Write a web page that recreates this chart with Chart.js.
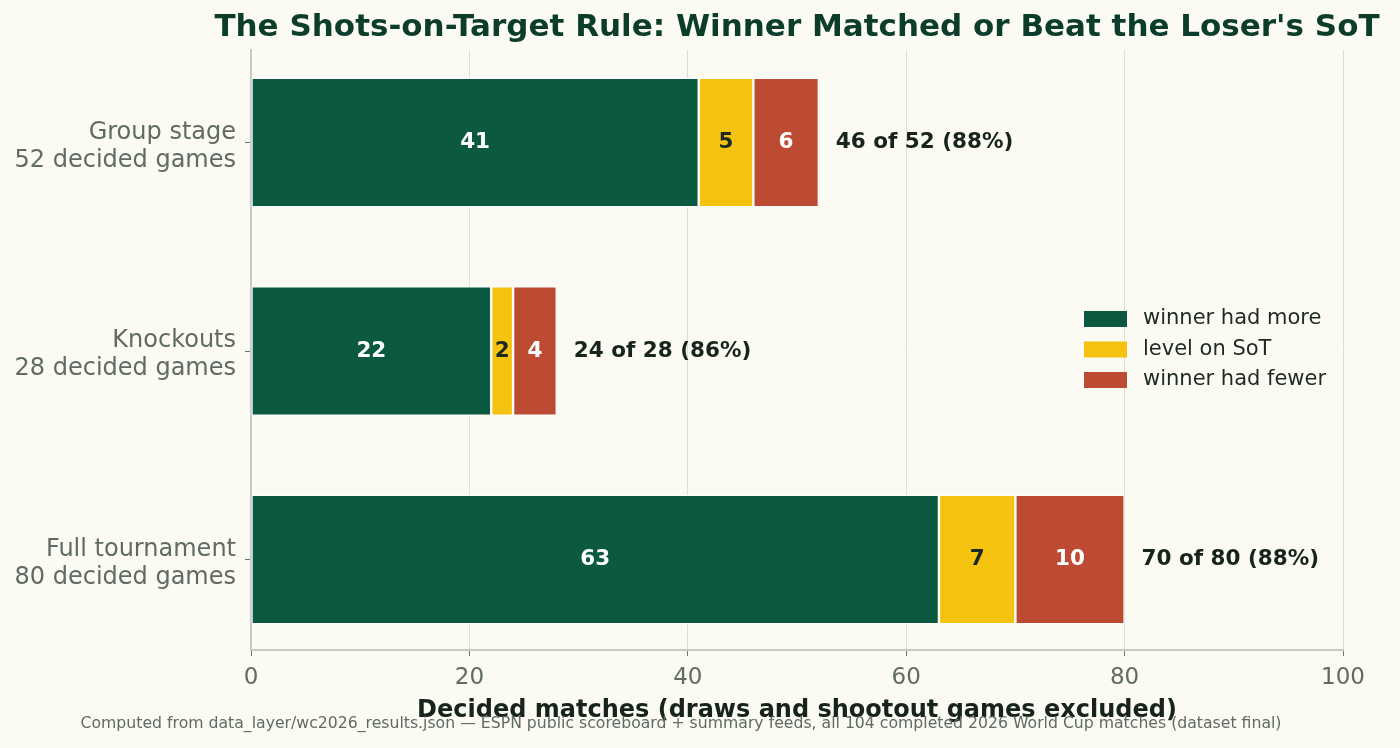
<!DOCTYPE html>
<html>
<head>
<meta charset="utf-8">
<script src="https://cdn.jsdelivr.net/npm/chart.js@4"></script>
<style>
  html, body { margin: 0; padding: 0; background: #fbfaf3; }
  canvas { display: block; }
</style>
</head>
<body>
<canvas id="chart" width="1400" height="748"></canvas>
<script>
// stages, top to bottom
const stages = [
  ["Group stage", "52 decided games"],
  ["Knockouts", "28 decided games"],
  ["Full tournament", "80 decided games"],
];
const winnerMore = [41, 22, 63];
const levelSot = [5, 2, 7];
const winnerFewer = [6, 4, 10];
const totals = [52, 28, 80];
const xTicks = [0, 20, 40, 60, 80, 100];

const GREEN = "#0b5a40";
const YELLOW = "#f4c20f";
const RED = "#bd4b34";
const FONT = "'DejaVu Sans', sans-serif";
const TITLE = "The Shots-on-Target Rule: Winner Matched or Beat the Loser's SoT";
const SOURCE = "Computed from data_layer/wc2026_results.json \u2014 ESPN public scoreboard + summary feeds, all 104 completed 2026 World Cup matches (dataset final)";

function series(values) {
  return values.map((v, i) => ({ x: v, y: i }));
}

// numbers inside each segment + "n of N (p%)" after the bar
const barLabels = {
  id: "barLabels",
  afterDatasetsDraw(chart) {
    const ctx = chart.ctx;
    ctx.save();
    ctx.font = "bold 21.5px " + FONT;
    ctx.textBaseline = "middle";
    ctx.textAlign = "center";
    chart.data.datasets.forEach((ds, di) => {
      const meta = chart.getDatasetMeta(di);
      meta.data.forEach((bar, i) => {
        const cx = (bar.x + bar.base) / 2;
        ctx.fillStyle = ds.labelColor;
        ctx.fillText(String(ds.data[i].x), cx, bar.y);
      });
    });
    const last = chart.getDatasetMeta(chart.data.datasets.length - 1);
    ctx.textAlign = "left";
    ctx.fillStyle = "#17241c";
    last.data.forEach((bar, i) => {
      const ok = winnerMore[i] + levelSot[i];
      const pct = Math.round((ok / totals[i]) * 100);
      ctx.fillText(ok + " of " + totals[i] + " (" + pct + "%)", bar.x + 17, bar.y);
    });
    ctx.restore();
  },
};

// title over the plot, legend inside the plot, source note
const extras = {
  id: "extras",
  afterDraw(chart) {
    const ctx = chart.ctx;
    const area = chart.chartArea;
    ctx.save();
    ctx.textBaseline = "middle";
    ctx.textAlign = "center";
    ctx.font = "bold 31px " + FONT;
    ctx.fillStyle = "#0b3d2a";
    ctx.fillText(TITLE, (area.left + area.right) / 2, 28);

    ctx.font = "21px " + FONT;
    ctx.textAlign = "left";
    chart.data.datasets.forEach((ds, i) => {
      const y = 319 + i * 30.5;
      ctx.fillStyle = ds.backgroundColor;
      ctx.fillRect(1084, y - 8, 43, 16);
      ctx.fillStyle = "#1f2a24";
      ctx.fillText(ds.label, 1143, y);
    });

    ctx.font = "15.7px " + FONT;
    ctx.fillStyle = "#5f6b63";
    ctx.textAlign = "center";
    ctx.fillText(SOURCE, 681, 724);
    ctx.restore();
  },
};

const bgPlugin = {
  id: "bg",
  beforeDraw(chart) {
    const ctx = chart.ctx;
    ctx.save();
    ctx.fillStyle = "#fbfaf3";
    ctx.fillRect(0, 0, chart.width, chart.height);
    ctx.restore();
  },
};

new Chart(document.getElementById("chart").getContext("2d"), {
  type: "bar",
  data: {
    datasets: [
      { label: "winner had more", data: series(winnerMore), backgroundColor: GREEN, labelColor: "#ffffff" },
      { label: "level on SoT", data: series(levelSot), backgroundColor: YELLOW, labelColor: "#1b2a20" },
      { label: "winner had fewer", data: series(winnerFewer), backgroundColor: RED, labelColor: "#ffffff" },
    ],
  },
  options: {
    indexAxis: "y",
    responsive: false,
    animation: false,
    devicePixelRatio: 1,
    layout: { padding: { top: 50, right: 57, bottom: 0, left: 0 } },
    datasets: {
      bar: {
        stack: "all",
        barPercentage: 0.62,
        categoryPercentage: 1,
        borderColor: "#ffffff",
        borderWidth: 1.2,
        borderSkipped: false,
      },
    },
    scales: {
      x: {
        type: "linear",
        stacked: true,
        min: 0,
        max: 100,
        afterBuildTicks(scale) {
          scale.ticks = xTicks.map((v) => ({ value: v }));
        },
        afterFit(scale) { scale.height = 98; },
        grid: { color: "#dfdfd7", lineWidth: 1, tickLength: 6, tickColor: "#6b776f", drawOnChartArea: true },
        border: { color: "#c6ccc5", width: 2 },
        ticks: { color: "#5f6b63", font: { family: FONT, size: 23 }, padding: 8 },
        title: {
          display: true,
          text: "Decided matches (draws and shootout games excluded)",
          color: "#17241c",
          font: { family: FONT, size: 24, weight: "bold" },
          padding: { top: 0, bottom: 23 },
        },
      },
      y: {
        type: "linear",
        stacked: true,
        reverse: true,
        offset: false,
        min: -0.4436,
        max: 2.434,
        afterBuildTicks(scale) {
          scale.ticks = stages.map((s, i) => ({ value: i }));
        },
        afterFit(scale) { scale.width = 251; },
        grid: { display: true, offset: false, drawOnChartArea: false, tickLength: 6, tickColor: "#6b776f" },
        border: { color: "#c6ccc5", width: 2 },
        ticks: {
          color: "#5f6b63",
          font: { family: FONT, size: 24, lineHeight: 1.17 },
          padding: 9,
          labelOffset: 4,
          callback: (v) => stages[v] || "",
        },
      },
    },
    plugins: {
      legend: { display: false },
      tooltip: { enabled: false },
      title: { display: false },
    },
  },
  plugins: [bgPlugin, barLabels, extras],
});
</script>
</body>
</html>
